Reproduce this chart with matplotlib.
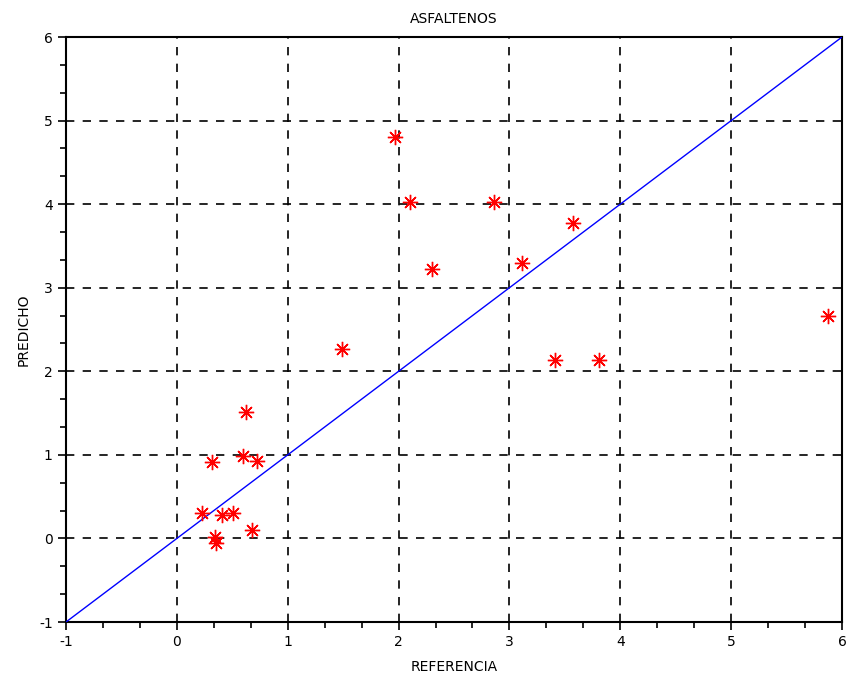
import matplotlib
matplotlib.use('Agg')
import matplotlib.pyplot as plt
from matplotlib.ticker import MultipleLocator

plt.rcParams['axes.unicode_minus'] = False

# measured (referencia) vs predicted (predicho) values
referencia = [1.97, 2.10, 2.86, 3.57, 2.30, 3.11, 1.49, 3.41, 3.81, 5.87,
              0.62, 0.60, 0.72, 0.32, 0.23, 0.41, 0.51, 0.68, 0.34, 0.35]
predicho = [4.80, 4.02, 4.02, 3.77, 3.23, 3.30, 2.27, 2.13, 2.13, 2.66,
            1.51, 0.99, 0.93, 0.91, 0.31, 0.28, 0.31, 0.10, 0.02, -0.05]
ideal = [-1, 6]

fig = plt.figure(figsize=(8.49, 6.79), dpi=100)
ax = fig.add_axes([0.0777, 0.0839, 0.9141, 0.8616])

ax.plot(ideal, ideal, color='blue', linewidth=1.0, zorder=3)
ax.plot(referencia, predicho, linestyle='none', marker=(8, 2, 0),
        markersize=11, markeredgewidth=1.0, color='red', zorder=4)

ax.set_xlim(-1, 6)
ax.set_ylim(-1, 6)
ax.xaxis.set_major_locator(MultipleLocator(1))
ax.yaxis.set_major_locator(MultipleLocator(1))
ax.xaxis.set_minor_locator(MultipleLocator(1 / 3))
ax.yaxis.set_minor_locator(MultipleLocator(1 / 3))
ax.tick_params(which='major', direction='out', length=6, width=1.2, labelsize=10)
ax.tick_params(which='minor', direction='out', length=4, width=1.2)
ax.grid(which='major', color='black', linestyle=(0, (5, 5)), linewidth=1.2)
for s in ax.spines.values():
    s.set_linewidth(1.5)

ax.set_title('ASFALTENOS', fontsize=10, pad=10)
ax.set_xlabel('REFERENCIA', fontsize=10, labelpad=8)
ax.set_ylabel('PREDICHO', fontsize=10, labelpad=6)

fig.savefig('out.png', dpi=100)
